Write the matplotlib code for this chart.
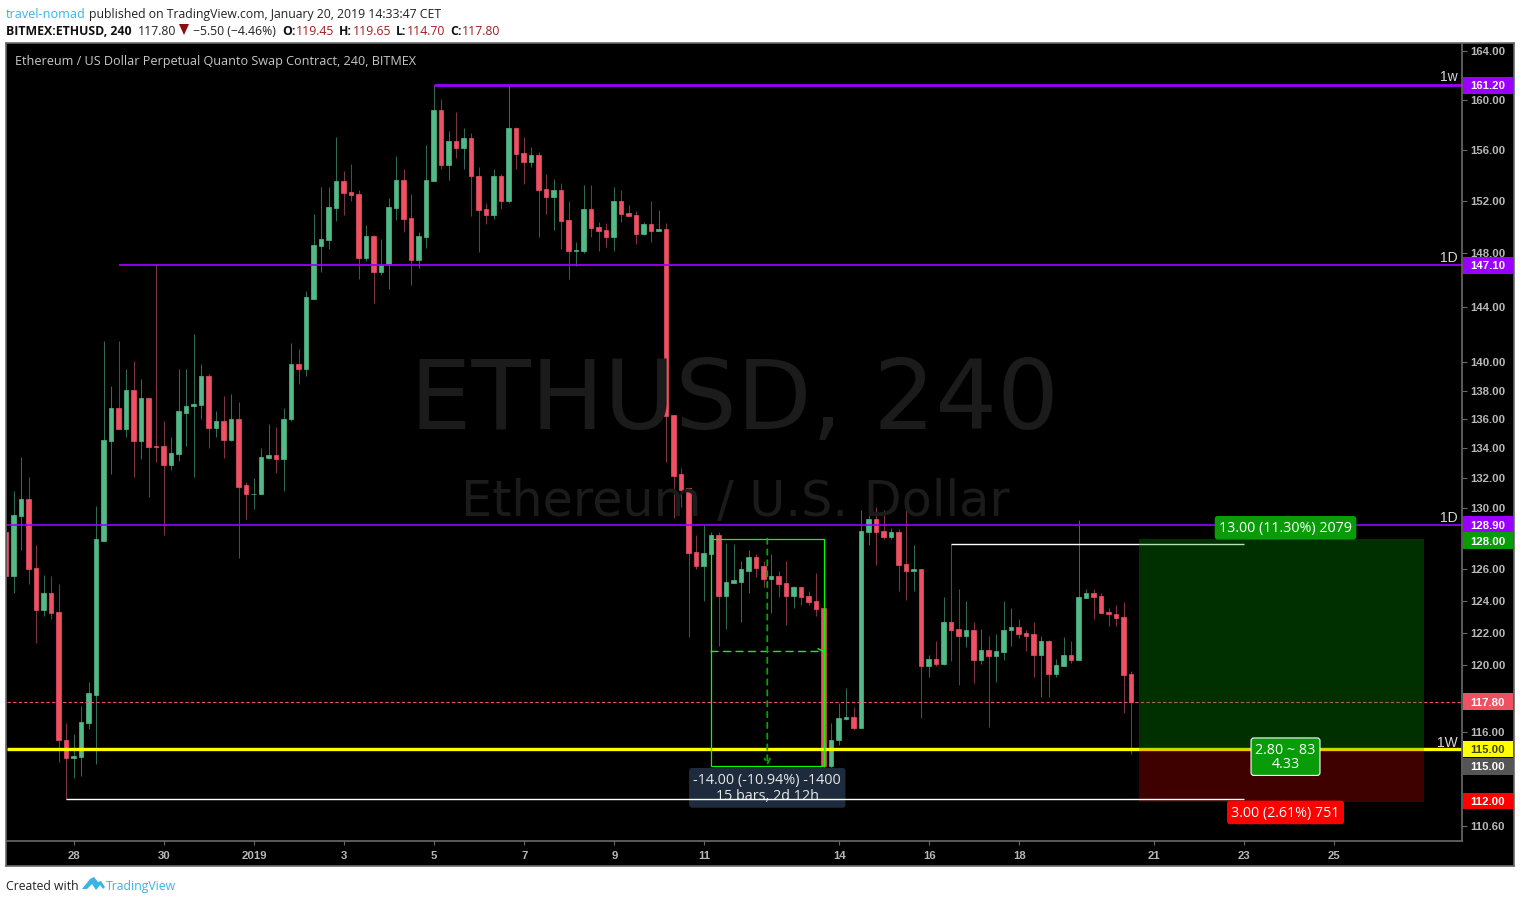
import numpy as np
import matplotlib
matplotlib.use("Agg")
import matplotlib.pyplot as plt
from matplotlib.patches import Polygon, Rectangle

W, H = 1520, 903

# 4h candles, left to right
opens = [128.4,125.55,129.5,130.6,126.1,123.45,124.5,123.3,115.55,114.5,
         114.55,116.55,118.2,127.85,134.5,136.8,135.35,138.05,134.5,137.5,
         134.2,134.2,132.9,133.65,136.45,136.9,137,139.05,135.4,135.9,
         134.6,136.05,131.5,130.9,130.9,133.35,133.55,133.3,136,139.85,
         139.5,144.6,148.55,149,151.45,153.55,152.7,152.55,147.65,149.3,
         146.6,147.2,151.45,153.65,150.7,147.5,149.25,153.55,159.2,154.8,
         156.7,156.15,156.95,153.95,151.4,150.9,153.95,152,157.7,155.75,
         155,155.6,152.95,152.3,152.85,150.55,148.15,148.15,151.4,150,
         149.75,149.25,152,151.05,150.9,149.45,150.2,149.7,149.85,136.3,
         132.25,131.3,127.15,126.25,127,128.2,124.3,125.15,125.2,125.9,
         126.8,126.2,125.4,125.6,125.15,124.3,124.85,124.3,124,123.55,
         114,115.5,116.75,116.9,116.25,128.45,129.3,128.5,128.1,128.4,
         126.35,125.9,126.05,119.95,120.4,120.1,122.65,122.25,121.8,122.2,
         120.35,120.95,120.6,120.8,122.15,122.35,122,121.9,120.65,121.5,
         119.45,119.95,120.65,120.35,124.2,124.5,124.3,123.3,123.2,123,119.45]
highs = [128.9,131.1,133.45,132.1,127.55,125.65,125.6,125.05,116.55,115.9,
         117.55,119,130.15,141.55,138.3,141.55,139.55,140.1,138.8,137.5,
         147.1,135.9,134.8,139.5,139.5,142.05,139.9,139.15,136.55,137.65,
         137.8,137.2,131.75,132,134.05,135.7,135.45,136.8,141.4,140.95,
         145.15,151,153.1,153.1,157.05,154.3,154.9,152.85,150.1,149.4,
         149.1,152.2,155.5,154.5,152.55,149.6,156.4,161.2,160.1,157.5,
         159.05,157.75,157.35,154.6,151.85,154.5,154.1,161.15,157.85,157.05,
         156.25,155.85,154.1,153.7,153.4,152,148.85,153.25,153.25,150.4,
         150.3,153.1,152.85,151.7,151.2,150.4,152,151.3,150.3,136.3,
         132.7,131.3,128.2,128.9,128.45,128.45,127.7,127.65,126.55,127.25,
         127,126.55,127,125.9,126.55,124.95,124.85,124.6,125.8,123.55,
         116.55,117.75,118.6,117.5,129.85,131.35,130.1,129.9,128.7,128.6,
         130.9,127.55,126.05,120.65,121.5,124.25,127.65,124.75,124,122.65,
         122.25,121.8,121.95,124,123.55,122.85,122.2,122.7,121.8,121.55,
         120.4,121.75,121.5,129.2,124.75,124.75,124.5,123.55,123.75,123.9,119.65]
lows = [124.6,124.5,127.25,125.05,121.4,123.05,122.85,114.25,112.1,113.3,
        113.45,116.15,114.15,127.85,132.3,135.35,134.8,132.1,133.3,130.7,
        133.05,128.25,132.55,133.15,134.2,132.1,136.05,134.05,134.8,133.35,
        134.5,126.75,129.3,129.95,130.9,133.25,132.35,131.1,135.9,138.5,
        139,144.6,146.6,148.3,150.45,150.9,152,146.1,147.4,144.3,
        146.4,145.3,150.55,149.6,145.65,146.85,148.4,153.5,154.5,153.65,
        155.35,154.5,150.85,148.1,150.2,150.6,151.4,151.85,154.5,153.3,
        154.65,149.25,151,149.75,148.3,146.1,147,148,149.25,148.15,
        148.5,148.15,150.4,150.85,148.7,149.4,148.85,149.7,133.05,129.35,
        130.1,121.75,126,124,124.05,121.2,122.25,125.15,122.65,124.5,
        125.5,124.9,123.25,124.25,122.5,123.55,123.75,123.75,123.05,113.5,
        113.85,115.25,116.7,116.1,116.25,127.55,126.3,127.95,127.95,124.6,
        124.05,124.6,116.8,119.3,119.95,120,120.25,118.8,121.15,118.9,
        120.1,116.3,119,120.3,121.2,121.7,120.9,119.3,118.1,118.1,
        119.3,119.95,120.15,120.35,124.2,122.85,123.25,122.4,122.4,117.15,114.7]
closes = [125.55,129.55,130.6,126.05,123.45,124.5,123.25,115.5,114.5,114.6,
          116.6,118.3,127.95,134.6,136.8,135.35,138.05,134.5,137.5,134.1,
          134.1,132.9,133.7,136.55,136.95,137.1,139.05,135.4,135.9,134.6,
          136.05,131.4,130.9,130.95,133.45,133.55,133.3,136.05,139.85,139.5,
          144.7,148.65,149.1,151.55,153.55,152.6,152.45,147.65,149.3,146.6,
          147.1,151.55,153.65,150.6,147.5,149.3,153.65,159.2,154.8,156.7,
          156.15,156.95,153.9,151.3,150.9,153.95,152,157.7,155.65,155,
          155.6,152.85,152.3,152.85,150.45,148.15,148.25,151.4,149.9,149.7,
          149.25,152,151,150.85,149.45,150.2,149.7,149.85,136.25,132.15,
          131.2,127.05,126.25,127.05,128.2,124.3,125.2,125.3,126,126.8,
          126.1,125.4,125.6,125.1,124.3,124.85,124.25,123.95,123.5,114,
          115.55,116.8,116.9,116.25,128.5,129.3,128.45,128.1,128.4,126.3,
          125.9,126.05,119.95,120.4,120.1,122.65,122.2,121.8,122.2,120.35,
          120.95,120.6,120.85,122.2,122.35,121.95,121.8,120.65,121.5,119.45,
          120,120.65,120.35,124.25,124.5,124.25,123.25,123.15,122.95,119.4,117.8]

price_ticks = [164, 160, 156, 152, 148, 144, 140, 138, 136, 134, 132, 130,
               126, 124, 122, 120, 116, 110.6]
day_bars = [9.1, 21.1, 33.1, 45.1, 57.1, 69.1, 81.1, 93.1, 111.1, 123.1, 135.1, 153.1, 165.1, 177.1]
day_labels = ["28", "30", "2019", "3", "5", "7", "9", "11", "14", "16", "18", "21", "23", "25"]

GREEN, RED = "#53b987", "#ef5064"
GREEN_W, RED_W = "#2f6a52", "#7d3541"
PURPLE = "#9900ff"
GRID = "#6a6a6a"
AXTXT = "#b8b8b8"
SANS = "Liberation Sans"
UI = "Open Sans"

def box(l, t, r, b):
    return [l / W, 1 - b / H, (r - l) / W, (b - t) / H]

def ftext(x, y, s, **kw):
    kw.setdefault("family", UI)
    kw.setdefault("fontsize", 8.8)
    kw.setdefault("color", "#222222")
    return fig.text(x / W, 1 - (y + 1.2) / H, s, va="center", **kw)

fig = plt.figure(figsize=(W / 100, H / 100), dpi=100, facecolor="white")

# outer black panel
back = fig.add_axes(box(6, 44, 1514, 867), facecolor="black")
back.set_xticks([])
back.set_yticks([])
for s in back.spines.values():
    s.set_color(GRID)
    s.set_linewidth(1.2)
back.set_zorder(-1)

ax = fig.add_axes(box(7, 45, 1462, 842))
ax.patch.set_alpha(0)
ax.set_yscale("log")
ax.set_xlim(0.133, 194.13)
ax.set_ylim(109.74, 164.62)
ax.minorticks_off()
ax.set_xticks([])
ax.set_yticks([])
for s in ax.spines.values():
    s.set_visible(False)

# watermark
fig.text(735 / W, 1 - 402 / H, "ETHUSD, 240", fontsize=70, color="#1b1b1b",
         ha="center", va="center", family="DejaVu Sans", zorder=0.5)
fig.text(735 / W, 1 - 502 / H, "Ethereum / U.S. Dollar", fontsize=35.5, color="#1b1b1b",
         ha="center", va="center", family="DejaVu Sans", zorder=0.5)

# candles
x = np.arange(len(opens))
o, h, l, c = map(np.array, (opens, highs, lows, closes))
up = c >= o
ax.vlines(x[up], l[up], h[up], color=GREEN_W, lw=0.75, zorder=2)
ax.vlines(x[~up], l[~up], h[~up], color=RED_W, lw=0.75, zorder=2)
bot = np.minimum(o, c)
ax.bar(x[up], np.abs(c - o)[up], bottom=bot[up], width=0.6, color=GREEN,
       edgecolor=GREEN, lw=0.5, zorder=3)
ax.bar(x[~up], np.abs(c - o)[~up], bottom=bot[~up], width=0.6, color=RED,
       edgecolor=RED, lw=0.5, zorder=3)

# levels
ax.hlines(161.23, 57, 194.13, color=PURPLE, lw=2.0, zorder=4)
ax.hlines(147.1, 15, 194.13, color=PURPLE, lw=1.3, zorder=4)
ax.hlines(128.9, 0.133, 194.13, color=PURPLE, lw=1.2, zorder=4)
ax.hlines(117.8, 0.133, 194.13, color=RED, lw=0.8, linestyles=(0, (3, 2)), zorder=4)
ax.hlines(115, 0.133, 194.13, color="#ffff00", lw=2.4, zorder=4)
ax.hlines(127.65, 126, 165, color="white", lw=1.0, zorder=4)
ax.hlines(112.1, 8, 165, color="white", lw=1.0, zorder=7)

for px, py, s in [(1458, 76, "1w"), (1458, 257, "1D"), (1458, 517, "1D"), (1458, 742, "1W")]:
    ftext(px, py, s, family=SANS, fontsize=10, color="#d8d8d8", ha="right", zorder=9)

# long position tool
ax.add_patch(Rectangle((151, 115), 38.1, 128 - 115, facecolor="#00a000", alpha=0.3, lw=0, zorder=5))
ax.add_patch(Rectangle((151, 111.95), 38.1, 115 - 111.95, facecolor="#ff0000", alpha=0.25, lw=0, zorder=5))
ax.text(170.6, 128.7, "13.00 (11.30%) 2079", color="white", fontsize=10.3, family=UI, ha="center", va="center", zorder=8,
        bbox=dict(boxstyle="round,pad=0.3,rounding_size=0.2", fc="#089c08", ec="none"))
ax.text(170.6, 111.35, "3.00 (2.61%) 751", color="white", fontsize=10.3, family=UI, ha="center", va="center", zorder=8,
        bbox=dict(boxstyle="round,pad=0.3,rounding_size=0.2", fc="#ff0000", ec="none"))
ax.text(170.6, 114.55, "2.80 ~ 83\n4.33", color="white", fontsize=10.3, family=UI, ha="center", va="center", zorder=8,
        linespacing=0.9,
        bbox=dict(boxstyle="round,pad=0.3,rounding_size=0.2", fc="#089c08", ec="white", lw=0.8))

# date and price range tool
ax.add_patch(Rectangle((94, 114), 15, 14, fill=False, ec="#00ff00", lw=0.9, zorder=6))
ax.annotate("", xy=(109.2, 120.85), xytext=(94, 120.85), zorder=6,
            arrowprops=dict(arrowstyle="->", color="#00ff00", lw=1.0, ls=(0, (5, 4)), shrinkA=0, shrinkB=0))
ax.annotate("", xy=(101.5, 114), xytext=(101.5, 128), zorder=6,
            arrowprops=dict(arrowstyle="->", color="#00a800", lw=1.3, ls=(0, (3, 3)), shrinkA=0, shrinkB=0))
ax.text(101.5, 112.75, "-14.00 (-10.94%) -1400\n15 bars, 2d 12h", color="#e6e6e6", fontsize=10.4, family=UI,
        ha="center", va="center", zorder=6, linespacing=1.1,
        bbox=dict(boxstyle="round,pad=0.3,rounding_size=0.2", fc="#1e2b3c", ec="none"))

ftext(15, 60, "Ethereum / US Dollar Perpetual Quanto Swap Contract, 240, BITMEX", color="#c8c8c8",
      fontsize=9.1, zorder=9)

# price scale
axp = fig.add_axes(box(1462, 45, 1513, 842), facecolor="black")
axp.set_yscale("log")
axp.set_ylim(109.74, 164.62)
axp.set_xlim(0, 1)
axp.minorticks_off()
axp.set_xticks([])
axp.set_yticks(price_ticks + [161.2, 147.1, 128.9, 127.85, 117.8, 115, 114, 112])
axp.set_yticklabels([])
axp.tick_params(axis="y", which="both", direction="in", left=True, length=3.5, width=0.8, color=GRID, labelleft=False)
for s in ("top", "right", "bottom"):
    axp.spines[s].set_visible(False)
axp.spines["left"].set_color(GRID)
axp.spines["left"].set_linewidth(1.2)
for p in price_ticks:
    axp.text(0.5, p, f"{p:.2f}", color=AXTXT, fontsize=8.2, family=SANS, weight="bold", ha="center", va="center", zorder=2)

tags = [(161.2, "161.20", PURPLE, "white"), (147.1, "147.10", PURPLE, "white"),
        (128.9, "128.90", PURPLE, "white"), (127.85, "128.00", "#089c08", "white"),
        (117.8, "117.80", RED, "white"), (115, "115.00", "#ffff00", "#444400"),
        (114, "115.00", "#555555", "white"), (112, "112.00", "#ff0000", "white")]
for p, s, bg, fg in tags:
    axp.axhspan(p / 1.0043, p * 1.0043, xmin=0.02, xmax=1, color=bg, lw=0, zorder=3)
    axp.text(0.5, p, s, color=fg, fontsize=8.2, family=SANS, weight="bold", ha="center", va="center", zorder=4)

# time scale
axt = fig.add_axes(box(7, 842, 1462, 866), facecolor="black")
axt.set_xlim(0.133, 194.13)
axt.set_ylim(0, 1)
axt.set_yticks([])
axt.set_xticks(day_bars)
axt.set_xticklabels([])
axt.tick_params(axis="x", direction="in", top=True, bottom=False, length=3, width=0.8, color=GRID)
for s in ("left", "right", "bottom"):
    axt.spines[s].set_visible(False)
axt.spines["top"].set_color(GRID)
axt.spines["top"].set_linewidth(1.2)
for b, s in zip(day_bars, day_labels):
    axt.text(b, 0.42, s, color=AXTXT, fontsize=8.2, family=SANS, weight="bold", ha="center", va="center")

# header
ftext(6, 13, "travel-nomad", color="#3bb3e4", fontsize=9.1)
ftext(89, 13, "published on TradingView.com, January 20, 2019 14:33:47 CET")
ftext(6, 30, "BITMEX:ETHUSD, 240", weight="bold", color="#111111")
ftext(138, 30, "117.80")
fig.add_artist(Polygon([(179 / W, 1 - 25 / H), (189 / W, 1 - 25 / H), (184 / W, 1 - 36 / H)],
                       closed=True, transform=fig.transFigure, fc="#8b0d0d", ec="none"))
ftext(193, 30, "\u22125.50 (\u22124.46%)")
for px, s in [(282, "O:"), (339, "H:"), (396, "L:"), (450, "C:")]:
    ftext(px, 30, s, weight="bold", color="#111111")
for px, s in [(296, "119.45"), (353, "119.65"), (407, "114.70"), (462, "117.80")]:
    ftext(px, 30, s, color="#a61c1c")

# footer
ftext(6, 885, "Created with")
ftext(106, 885, "TradingView", color="#3bb3e4")
logo = [(82, 890), (90, 880), (94, 878), (98, 883), (101, 882), (105, 888), (103, 890), (100, 886),
        (96, 891), (92, 885), (87, 890)]
fig.add_artist(Polygon([(a / W, 1 - b / H) for a, b in logo], closed=True, transform=fig.transFigure,
                       fc="#3bb3e4", ec="none"))

fig.savefig("out.png", dpi=100)
plt.close(fig)
